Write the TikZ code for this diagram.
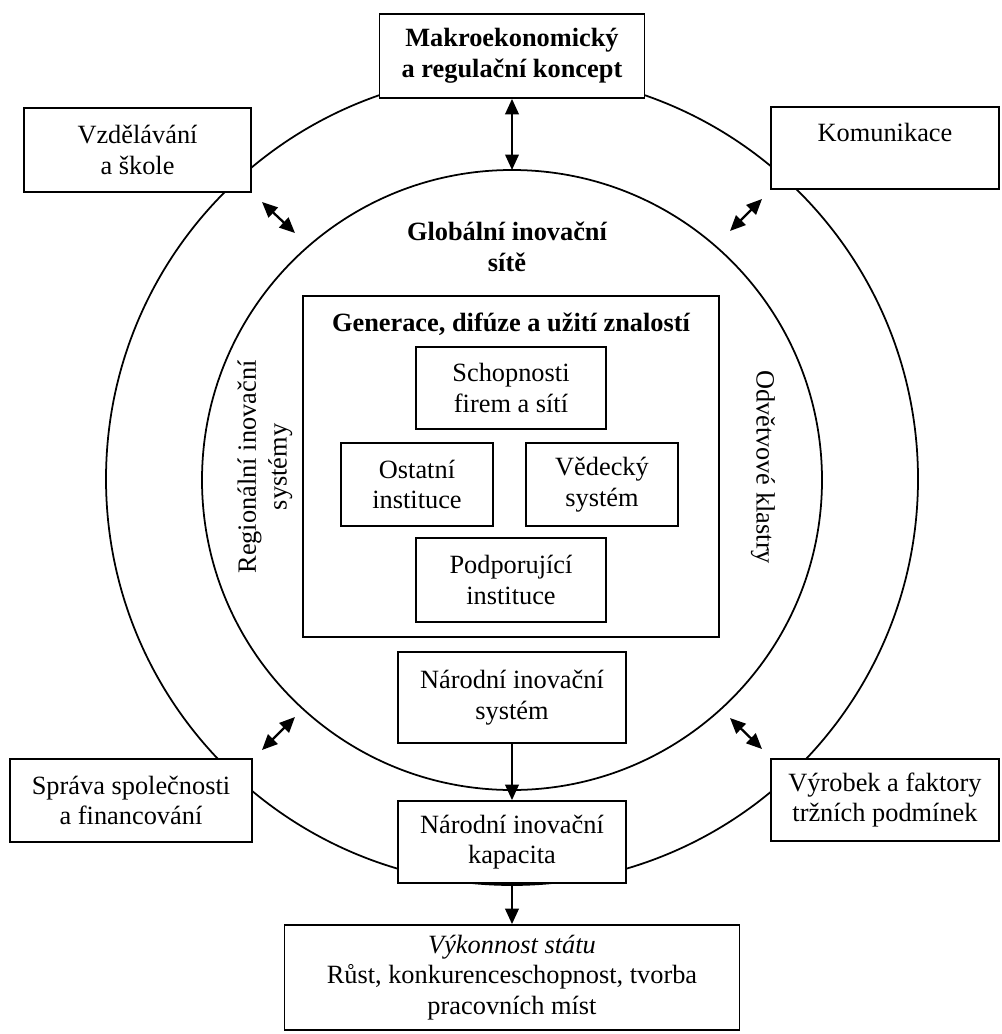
\documentclass[tikz,border=0pt]{standalone}
\usepackage{fontspec}
\setmainfont{Liberation Serif}
\usetikzlibrary{arrows.meta}

\begin{document}
\begin{tikzpicture} [x=0.02cm, y=-0.02cm, line width=1pt,
  box/.style={draw, fill=white, align=center, inner sep=2pt, font=\fontsize{15}{17.5}\selectfont},
  txt/.style={align=center, inner sep=0pt, font=\fontsize{15}{17.5}\selectfont},
  arr/.style={line width=1.3pt, -{Triangle[length=3.1mm, width=2.7mm]}},
  darr/.style={line width=1.3pt, {Triangle[length=3.1mm, width=2.7mm]}-{Triangle[length=3.1mm, width=2.7mm]}}]
\useasboundingbox (0,0) rectangle (1001,1034);

\draw (512,479) circle [radius=406];
\draw (512,480) circle [radius=310];

\node[box, minimum width=5.3cm, minimum height=1.68cm, font=\fontsize{15}{17.5}\selectfont\bfseries] (makro) at (512,56) {Makroekonomický\\a regulační koncept};
\node[box, minimum width=4.54cm, minimum height=1.68cm] (vzdel) at (137.5,150) {Vzdělávání\\a škole};
\node[box, minimum width=4.56cm, minimum height=1.64cm] (komun) at (885,148) {Komunikace\\\mbox{}};
\node[box, minimum width=4.84cm, minimum height=1.66cm] (sprava) at (131,800.5) {Správa společnosti\\a financování};
\node[box, minimum width=4.56cm, minimum height=1.64cm] (vyrob) at (885,800) {Výrobek a faktory\\tržních podmínek};

\node[txt, font=\fontsize{15}{17.5}\selectfont\bfseries] (glob) at (507,247) {Globální inovační\\sítě};
\node[txt, rotate=90] (region) at (265,467) {Regionální inovační\\systémy};
\node[txt, rotate=-90] (odvetv) at (763,467) {Odvětvové klastry};

\node[box, minimum width=8.32cm, minimum height=6.82cm] (gener) at (511,466.5) {};
\node[txt, font=\fontsize{15}{17.5}\selectfont\bfseries] (generT) at (511,324) {Generace, difúze a užití znalostí};
\node[box, minimum width=3.8cm, minimum height=1.64cm] (schop) at (511,388) {Schopnosti\\firem a sítí};
\node[box, minimum width=3.04cm, minimum height=1.66cm] (ostat) at (417,484.5) {Ostatní\\instituce};
\node[box, minimum width=3.04cm, minimum height=1.66cm] (vedec) at (602,484.5) {Vědecký\\systém};
\node[box, minimum width=3.8cm, minimum height=1.68cm] (podpo) at (511,580) {Podporující\\instituce};

\node[box, minimum width=4.56cm, minimum height=1.82cm] (nsys) at (512,697.5) {Národní inovační\\systém};
\node[box, minimum width=4.56cm, minimum height=1.64cm] (nkap) at (512,842) {Národní inovační\\kapacita};
\node[box, minimum width=9.1cm, minimum height=2.1cm] (vykon) at (512,977.5) {\textit{Výkonnost státu}\\Růst, konkurenceschopnost, tvorba\\pracovních míst};

\coordinate (ctop) at (512,170);
\draw[darr] (makro.south) -- (ctop);
\draw[arr] (nsys.south) -- (nkap.north);
\draw[arr] (nkap.south) -- (vykon.north);

\coordinate (ul1) at (262,202); \coordinate (ul2) at (295,233);
\coordinate (ur1) at (762,199); \coordinate (ur2) at (730,231);
\coordinate (ll1) at (262,750); \coordinate (ll2) at (295,717);
\coordinate (lr1) at (762,749); \coordinate (lr2) at (730,718);
\foreach \p in {ul,ur,ll,lr}
 \draw[darr] (\p1) -- (\p2);

\end{tikzpicture}
\end{document}
